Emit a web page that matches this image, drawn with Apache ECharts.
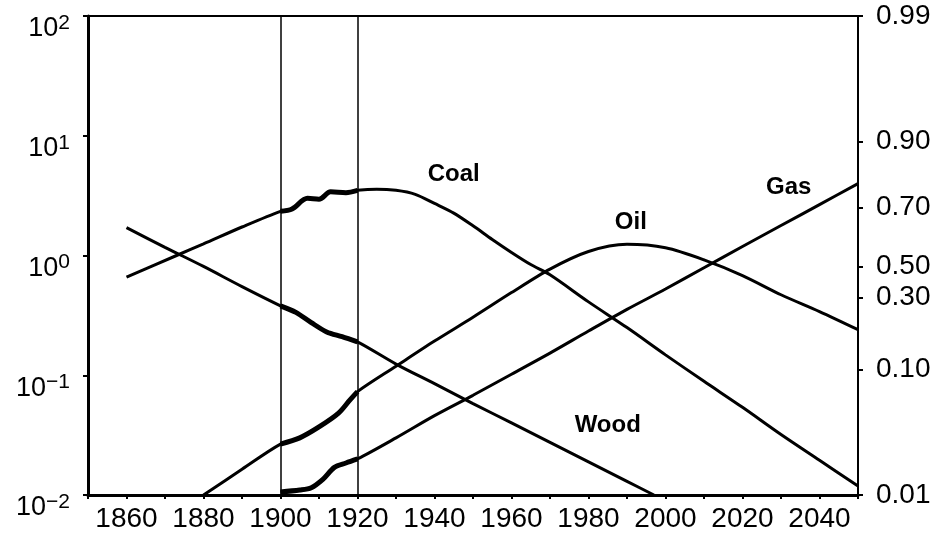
<!DOCTYPE html>
<html>
<head>
<meta charset="utf-8">
<script src="https://cdn.jsdelivr.net/npm/echarts@6/dist/echarts.min.js"></script>
<style>
  html, body { margin: 0; padding: 0; background: #fff; }
  #chart { width: 939px; height: 544px; }
</style>
</head>
<body>
<div id="chart"></div>
<script>
// values are F/(1-F), [year, value]
const woodData = [[1860,1.71],[1870,1.17],[1880,0.81],[1890,0.55],[1900,0.38],[1904,0.335],[1908,0.275],
  [1912,0.23],[1916,0.21],[1920,0.19],[1930,0.124],[1940,0.085],[1950,0.058],[1960,0.040],
  [1970,0.0275],[1980,0.0189],[1990,0.013],[1997,0.010]];
const coalData = [[1860,0.66],[1873,1.0],[1880,1.25],[1890,1.73],[1900,2.34],[1903,2.45],[1907,3.0],
  [1910,2.95],[1913,3.4],[1917,3.35],[1920,3.5],[1925,3.58],[1930,3.5],[1935,3.24],[1940,2.72],
  [1945,2.26],[1950,1.77],[1955,1.36],[1960,1.06],[1965,0.84],[1970,0.69],[1980,0.41],[1990,0.25],
  [2000,0.148],[2010,0.089],[2020,0.054],[2030,0.032],[2040,0.0195],[2050,0.0119]];
const oilData = [[1880,0.0100],[1890,0.0164],[1900,0.0266],[1905,0.030],[1910,0.037],[1915,0.048],
  [1918,0.062],[1920,0.073],[1930,0.119],[1940,0.193],[1950,0.305],[1960,0.49],[1970,0.77],
  [1980,1.08],[1990,1.24],[2000,1.16],[2010,0.92],[2020,0.68],[2030,0.47],[2040,0.34],[2050,0.24]];
const gasData = [[1900,0.0106],[1905,0.011],[1908,0.0115],[1911,0.0135],[1914,0.0170],[1917,0.0185],
  [1920,0.020],[1930,0.030],[1940,0.046],[1950,0.068],[1960,0.102],[1970,0.153],[1980,0.234],
  [1990,0.355],[2000,0.525],[2010,0.79],[2020,1.19],[2030,1.78],[2040,2.66],[2050,3.98]];

// name label anchors [year, value]
const seriesNames = ['Wood', 'Coal', 'Oil', 'Gas'];
const labelAnchors = [[1985, 0.0383], [1945, 4.73], [1991, 1.88], [2032, 3.69]];

// historical window marked by vertical lines
const markYears = [1900, 1920];

// right axis: market fraction F, placed at log10(F/(1-F))
const rightTickLabels = ['0.99', '0.90', '0.70', '0.50', '0.30', '0.10', '0.01'];
const rightTickPos = [2, 0.95, 0.40, -0.09, -0.35, -0.95, -2];

const FONT = '"Liberation Sans", Arial, sans-serif';
const allData = [woodData, coalData, oilData, gasData];

const chart = echarts.init(document.getElementById('chart'));

const series = [];
allData.forEach((d, i) => {
  series.push({
    name: seriesNames[i],
    type: 'line',
    data: d,
    smooth: 0.3,
    showSymbol: false,
    lineStyle: { color: '#000', width: 3 },
    markPoint: {
      symbol: 'circle',
      symbolSize: 0,
      data: [{ coord: labelAnchors[i] }],
      label: {
        show: true,
        formatter: seriesNames[i],
        color: '#000',
        fontFamily: FONT,
        fontSize: 24,
        fontWeight: 'bold'
      }
    },
    markLine: i === 0 ? {
      symbol: 'none',
      silent: true,
      label: { show: false },
      lineStyle: { color: '#000', width: 1.5, type: 'solid' },
      data: markYears.map(y => ({ xAxis: y }))
    } : undefined,
    z: 3
  });
  // thicker overlay for the historical data stretch
  series.push({
    type: 'line',
    data: d.filter(p => p[0] >= markYears[0] && p[0] <= markYears[1]),
    smooth: 0.3,
    showSymbol: false,
    lineStyle: { color: '#000', width: 5 },
    z: 4
  });
});

const option = {
  animation: false,
  grid: {
    left: 88, right: 81, top: 16, bottom: 49,
    show: true, borderColor: '#000', borderWidth: 2, backgroundColor: 'transparent'
  },
  xAxis: {
    type: 'value',
    min: 1850,
    max: 2050,
    interval: 10,
    axisLine: { onZero: false, lineStyle: { color: '#000', width: 3 } },
    axisTick: { length: 4, lineStyle: { color: '#000', width: 2 } },
    splitLine: { show: false },
    axisLabel: {
      color: '#000',
      fontFamily: FONT,
      fontSize: 28,
      margin: 10,
      formatter: v => ((v - 1860) % 20 === 0 && v < 2050) ? String(v) : ''
    }
  },
  yAxis: [
    {
      type: 'log',
      logBase: 10,
      min: 0.01,
      max: 100,
      axisLine: { onZero: false, lineStyle: { color: '#000', width: 3 } },
      axisTick: { length: 5, lineStyle: { color: '#000', width: 2 } },
      splitLine: { show: false },
      axisLabel: {
        margin: 18,
        padding: [26, 0, 0, 0],
        formatter: v => {
          const e = Math.round(Math.log10(v));
          return '{b|10}{s|' + (e < 0 ? '\u2212' + (-e) : e) + '}';
        },
        rich: {
          b: { fontFamily: FONT, fontSize: 27, color: '#000' },
          s: { fontFamily: FONT, fontSize: 21, color: '#000', verticalAlign: 'top', padding: [0, 0, 12, 0] }
        }
      }
    },
    {
      type: 'value',
      position: 'right',
      min: -2,
      max: 2,
      axisLine: { show: true, onZero: false, lineStyle: { color: '#000', width: 2 } },
      axisTick: { show: true, length: 5, customValues: rightTickPos, lineStyle: { color: '#000', width: 2 } },
      splitLine: { show: false },
      axisLabel: {
        color: '#000',
        fontFamily: FONT,
        fontSize: 28,
        margin: 18,
        padding: [4, 0, 0, 0],
        customValues: rightTickPos,
        formatter: v => {
          const idx = rightTickPos.findIndex(p => Math.abs(p - v) < 1e-6);
          return idx >= 0 ? rightTickLabels[idx] : '';
        }
      }
    }
  ],
  series: series
};

chart.setOption(option);
window.addEventListener('resize', () => chart.resize());
</script>
</body>
</html>
